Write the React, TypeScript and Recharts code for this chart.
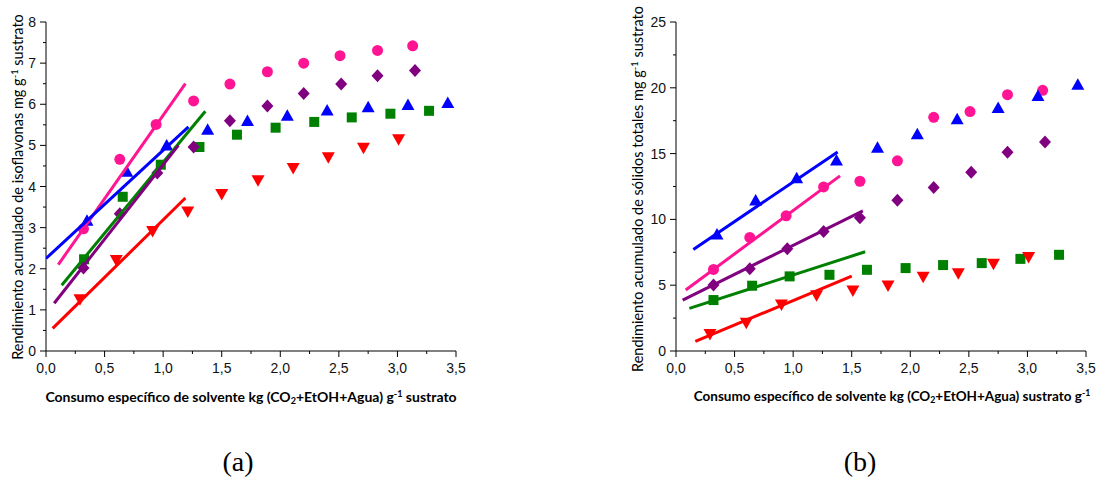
import React from "react";
import { ScatterChart, Scatter, XAxis, YAxis } from "recharts";

// (a) isoflavonas - puntos experimentales [x, y]
const isoRosa = [[0.32, 2.97], [0.63, 4.66], [0.94, 5.51], [1.26, 6.08], [1.57, 6.49], [1.89, 6.79], [2.2, 7.0], [2.51, 7.18], [2.83, 7.31], [3.13, 7.42]];
const isoAzul = [[0.35, 3.17], [0.69, 4.36], [1.03, 5.0], [1.38, 5.38], [1.72, 5.59], [2.06, 5.72], [2.4, 5.85], [2.75, 5.93], [3.09, 5.98], [3.43, 6.03]];
const isoVerde = [[0.325, 2.23], [0.655, 3.75], [0.98, 4.53], [1.31, 4.96], [1.63, 5.26], [1.96, 5.43], [2.29, 5.57], [2.61, 5.68], [2.94, 5.77], [3.27, 5.84]];
const isoMorado = [[0.32, 2.02], [0.63, 3.34], [0.95, 4.33], [1.26, 4.96], [1.57, 5.6], [1.89, 5.96], [2.2, 6.26], [2.52, 6.49], [2.83, 6.69], [3.15, 6.82]];
const isoRojo = [[0.29, 1.26], [0.6, 2.21], [0.91, 2.92], [1.21, 3.39], [1.5, 3.82], [1.81, 4.15], [2.11, 4.45], [2.41, 4.71], [2.71, 4.94], [3.01, 5.15]];

// (a) rectas de ajuste
const isoRosaFit = [[0.105, 2.1], [1.19, 6.5]];
const isoAzulFit = [[0, 2.25], [1.216, 5.45]];
const isoVerdeFit = [[0.134, 1.6], [1.36, 5.83]];
const isoMoradoFit = [[0.07, 1.16], [1.13, 5.0]];
const isoRojoFit = [[0.057, 0.55], [1.19, 3.72]];

// (b) solidos totales
const solRosa = [[0.32, 6.2], [0.63, 8.63], [0.94, 10.27], [1.26, 12.47], [1.57, 12.9], [1.89, 14.45], [2.2, 17.76], [2.51, 18.19], [2.83, 19.48], [3.13, 19.81]];
const solAzul = [[0.35, 8.86], [0.68, 11.44], [1.03, 13.13], [1.37, 14.47], [1.72, 15.44], [2.06, 16.47], [2.4, 17.61], [2.75, 18.47], [3.09, 19.38], [3.43, 20.24]];
const solMorado = [[0.32, 5.01], [0.63, 6.25], [0.95, 7.77], [1.26, 9.08], [1.57, 10.12], [1.89, 11.46], [2.2, 12.42], [2.52, 13.59], [2.83, 15.1], [3.15, 15.89]];
const solVerde = [[0.32, 3.87], [0.65, 4.96], [0.97, 5.67], [1.31, 5.79], [1.63, 6.17], [1.96, 6.3], [2.28, 6.53], [2.61, 6.68], [2.94, 7.0], [3.27, 7.31]];
const solRojo = [[0.29, 1.29], [0.6, 2.15], [0.9, 3.54], [1.2, 4.23], [1.51, 4.6], [1.81, 4.98], [2.11, 5.64], [2.41, 5.9], [2.71, 6.63], [3.01, 7.14]];

const solAzulFit = [[0.148, 7.72], [1.38, 15.13]];
const solRosaFit = [[0.083, 4.63], [1.4, 13.31]];
const solMoradoFit = [[0.057, 3.87], [1.595, 10.65]];
const solVerdeFit = [[0.114, 3.24], [1.615, 7.54]];
const solRojoFit = [[0.165, 0.73], [1.5, 5.69]];

const xTicks = [0, 0.25, 0.5, 0.75, 1, 1.25, 1.5, 1.75, 2, 2.25, 2.5, 2.75, 3, 3.25, 3.5];
const yTicksA = [0, 0.5, 1, 1.5, 2, 2.5, 3, 3.5, 4, 4.5, 5, 5.5, 6, 6.5, 7, 7.5, 8];
const yTicksB = [0, 2.5, 5, 7.5, 10, 12.5, 15, 17.5, 20, 22.5, 25];

const ROSA = "#ff1493";
const AZUL = "#0000ff";
const VERDE = "#008000";
const MORADO = "#800080";
const ROJO = "#ff0000";

const toPts = (arr: number[][]) => arr.map(([x, y]) => ({ x, y }));

const tickFont = { fontFamily: "'Liberation Sans', Arial, sans-serif", fontSize: 14, fill: "#111" };

const makeShape = (kind: string, color: string) => (p: any) => {
  const { cx, cy } = p;
  if (cx == null || cy == null) return <g />;
  if (kind === "circle") return <circle cx={cx} cy={cy} r={5.5} fill={color} />;
  if (kind === "square") return <rect x={cx - 5} y={cy - 5} width={10} height={10} fill={color} />;
  if (kind === "diamond")
    return <polygon points={`${cx},${cy - 6.5} ${cx + 6},${cy} ${cx},${cy + 6.5} ${cx - 6},${cy}`} fill={color} />;
  if (kind === "up")
    return <polygon points={`${cx},${cy - 6.5} ${cx + 6.5},${cy + 5} ${cx - 6.5},${cy + 5}`} fill={color} />;
  return <polygon points={`${cx},${cy + 6.5} ${cx + 6.5},${cy - 5} ${cx - 6.5},${cy - 5}`} fill={color} />;
};

const noDot = () => <g />;

const XTick = (props: any) => {
  const { x, y, payload } = props;
  const v = payload.value;
  const major = Math.abs(v * 2 - Math.round(v * 2)) < 1e-6;
  return (
    <g>
      <line x1={x} x2={x} y1={y} y2={y + (major ? 6 : 3)} stroke="#000" />
      {major && (
        <text x={x} y={y + 22} textAnchor="middle" {...tickFont}>
          {v.toFixed(1).replace(".", ",")}
        </text>
      )}
    </g>
  );
};

const makeYTick = (step: number) => (props: any) => {
  const { x, y, payload } = props;
  const v = payload.value;
  const major = Math.abs(v / step - Math.round(v / step)) < 1e-6;
  return (
    <g>
      <line x1={x} x2={x - (major ? 6 : 3)} y1={y} y2={y} stroke="#000" />
      {major && (
        <text x={x - 10} y={y} textAnchor="end" dominantBaseline="central" {...tickFont}>
          {String(v)}
        </text>
      )}
    </g>
  );
};

type Serie = { pts: number[][]; fit: number[][]; color: string; kind: string };

const seriesA: Serie[] = [
  { pts: isoRosa, fit: isoRosaFit, color: ROSA, kind: "circle" },
  { pts: isoAzul, fit: isoAzulFit, color: AZUL, kind: "up" },
  { pts: isoVerde, fit: isoVerdeFit, color: VERDE, kind: "square" },
  { pts: isoMorado, fit: isoMoradoFit, color: MORADO, kind: "diamond" },
  { pts: isoRojo, fit: isoRojoFit, color: ROJO, kind: "down" },
];

const seriesB: Serie[] = [
  { pts: solRosa, fit: solRosaFit, color: ROSA, kind: "circle" },
  { pts: solAzul, fit: solAzulFit, color: AZUL, kind: "up" },
  { pts: solVerde, fit: solVerdeFit, color: VERDE, kind: "square" },
  { pts: solMorado, fit: solMoradoFit, color: MORADO, kind: "diamond" },
  { pts: solRojo, fit: solRojoFit, color: ROJO, kind: "down" },
];

function Panel({ series, width, yWidth, right, yMax, yTicks, yStep }: any) {
  return (
    <ScatterChart width={width} height={390} margin={{ top: 22, right, bottom: 0, left: 0 }}>
      <XAxis
        type="number"
        dataKey="x"
        domain={[0, 3.5]}
        ticks={xTicks}
        interval={0}
        tickSize={0}
        tickMargin={0}
        height={39}
        tick={<XTick />}
        axisLine={{ stroke: "#000" }}
        allowDataOverflow
      />
      <YAxis
        type="number"
        dataKey="y"
        domain={[0, yMax]}
        ticks={yTicks}
        interval={0}
        tickSize={0}
        tickMargin={0}
        width={yWidth}
        tick={makeYTick(yStep)}
        axisLine={{ stroke: "#000" }}
        allowDataOverflow
      />
      {series.map((s: Serie, i: number) => (
        <Scatter key={"p" + i} data={toPts(s.pts)} shape={makeShape(s.kind, s.color)} isAnimationActive={false} />
      ))}
      {series.map((s: Serie, i: number) => (
        <Scatter
          key={"f" + i}
          data={toPts(s.fit)}
          line={{ stroke: s.color, strokeWidth: 3 }}
          shape={noDot}
          isAnimationActive={false}
        />
      ))}
    </ScatterChart>
  );
}

const titleFont: React.CSSProperties = {
  position: "absolute",
  whiteSpace: "nowrap",
  fontFamily: "Lato, 'Open Sans', sans-serif",
  fontSize: 14,
  lineHeight: 1,
  color: "#000",
};

const sup: React.CSSProperties = { fontSize: "0.65em", verticalAlign: "0.55em" };
const sub: React.CSSProperties = { fontSize: "0.65em", verticalAlign: "-0.25em" };

export default function App() {
  return (
    <div style={{ position: "absolute", left: 0, top: 0, width: 1097, height: 479, background: "#fff", overflow: "hidden" }}>
      <div style={{ position: "absolute", left: 0, top: 0 }}>
        <Panel series={seriesA} width={480} yWidth={46} right={24} yMax={8} yTicks={yTicksA} yStep={1} />
      </div>
      <div style={{ position: "absolute", left: 620, top: 0 }}>
        <Panel series={seriesB} width={477} yWidth={56} right={11} yMax={25} yTicks={yTicksB} yStep={5} />
      </div>

      <div style={{ ...titleFont, fontWeight: 700, left: 251, top: 397, transform: "translate(-50%,-50%)" }}>
        Consumo específico de solvente kg (CO<span style={sub}>2</span>+EtOH+Agua) g<span style={sup}>-1</span> sustrato
      </div>
      <div style={{ ...titleFont, fontWeight: 700, fontSize: 13.5, left: 892, top: 397, transform: "translate(-50%,-50%)" }}>
        Consumo específico de solvente kg (CO<span style={sub}>2</span>+EtOH+Agua) sustrato g<span style={sup}>-1</span>
      </div>
      <div style={{ ...titleFont, fontSize: 14.5, left: 18, top: 187, transform: "translate(-50%,-50%) rotate(-90deg)" }}>
        Rendimiento acumulado de isoflavonas mg g<span style={sup}>-1</span> sustrato
      </div>
      <div style={{ ...titleFont, fontSize: 14.5, left: 638, top: 189, transform: "translate(-50%,-50%) rotate(-90deg)" }}>
        Rendimiento acumulado de sólidos totales mg g<span style={sup}>-1</span> sustrato
      </div>

      <div style={{ position: "absolute", left: 238, top: 462, transform: "translate(-50%,-50%)", fontFamily: "'Liberation Serif', 'DejaVu Serif', serif", fontSize: 28, lineHeight: 1 }}>
        (a)
      </div>
      <div style={{ position: "absolute", left: 860, top: 462, transform: "translate(-50%,-50%)", fontFamily: "'Liberation Serif', 'DejaVu Serif', serif", fontSize: 28, lineHeight: 1 }}>
        (b)
      </div>
    </div>
  );
}
